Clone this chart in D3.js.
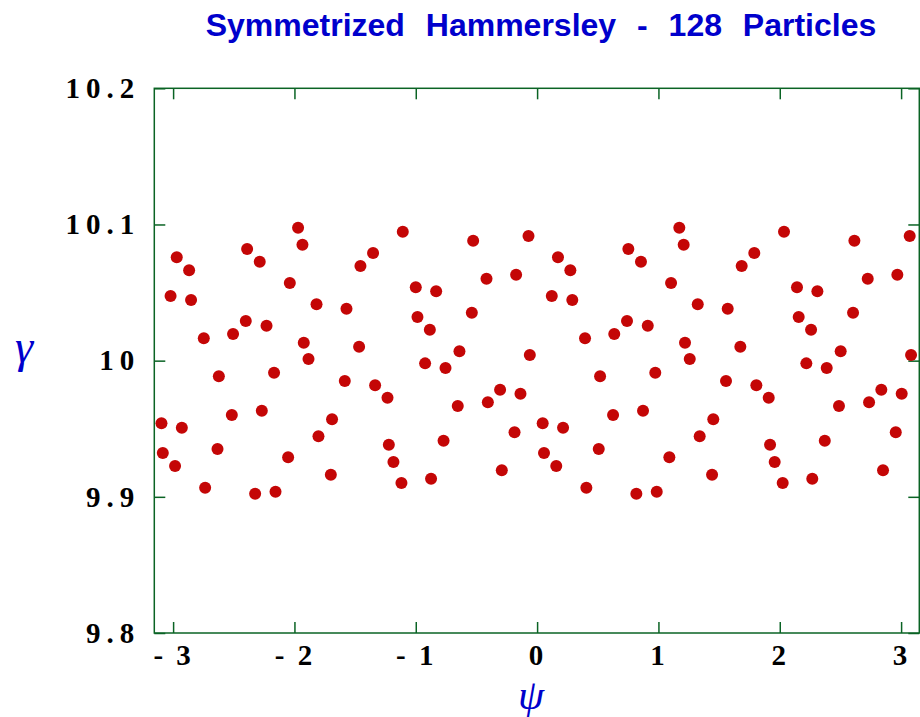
<!DOCTYPE html>
<html>
<head>
<meta charset="utf-8">
<script src="https://cdn.jsdelivr.net/npm/d3@7"></script>
<style>
  html, body { margin: 0; padding: 0; background: #fff; }
  svg { display: block; }
</style>
</head>
<body>
<div id="chart"></div>
<script>
    "use strict";

    // Particle positions (psi, gamma)
    var psi = [
	-1.970, -1.934, -2.970, -2.868, -2.390, -2.286, -2.038, -3.021, -2.852, -1.818,
	-1.571, -1.456, -1.352, -1.107, -0.527, -0.071, -0.417, -0.173, -1.000, -0.832,
	-0.538, -0.986, -0.884, -2.401, -2.230, -2.747, -2.506, -1.923, -1.467, -0.640,
	-0.060, -1.884, -0.923, -0.755, -2.623, -2.168, -1.585, -1.335, -1.233, -0.654,
	-0.406, -0.305, -0.137, -2.516, -2.269, -1.690, -1.802, -3.096, -2.928, -2.634,
	-3.085, -2.984, -2.052, -1.222, -1.184, -0.771, -0.186, -0.291, -1.700, -1.118,
	-0.874, -2.736, -2.324, -2.156,
	 1.172,  1.208,  0.172,  0.274,  0.752,  0.856,  1.104,  0.121,  0.290,  1.324,
	 1.571,  1.686,  1.790,  2.035,  2.615,  3.071,  2.725,  2.969,  2.142,  2.310,
	 2.604,  2.156,  2.258,  0.741,  0.912,  0.395,  0.636,  1.219,  1.675,  2.502,
	 3.082,  1.258,  2.219,  2.387,  0.519,  0.974,  1.557,  1.807,  1.909,  2.488,
	 2.736,  2.837,  3.005,  0.626,  0.873,  1.452,  1.340,  0.046,  0.214,  0.508,
	 0.057,  0.158,  1.090,  1.920,  1.958,  2.371,  2.956,  2.851,  1.442,  2.024,
	 2.268,  0.406,  0.818,  0.986
    ];
    var gamma = [
	10.0976, 10.0851, 10.0759, 10.0663, 10.0820, 10.0727, 10.0570, 10.0475, 10.0445, 10.0414,
	10.0381, 10.0695, 10.0791, 10.0947, 10.0881, 10.0915, 10.0602, 10.0631, 10.0539, 10.0509,
	10.0352, 10.0321, 10.0227, 10.0291, 10.0257, 10.0164, 10.0196, 10.0132, 10.0102, 10.0069,
	10.0041, 10.0012,  9.9980,  9.9946,  9.9885,  9.9912,  9.9851,  9.9819,  9.9728,  9.9667,
	 9.9694,  9.9787,  9.9757,  9.9601,  9.9632,  9.9569,  9.9444,  9.9540,  9.9508,  9.9351,
	 9.9322,  9.9226,  9.9290,  9.9383,  9.9256,  9.9412,  9.9474,  9.9195,  9.9162,  9.9102,
	 9.9133,  9.9067,  9.9023,  9.9038,
	10.0976, 10.0851, 10.0759, 10.0663, 10.0820, 10.0727, 10.0570, 10.0475, 10.0445, 10.0414,
	10.0381, 10.0695, 10.0791, 10.0947, 10.0881, 10.0915, 10.0602, 10.0631, 10.0539, 10.0509,
	10.0352, 10.0321, 10.0227, 10.0291, 10.0257, 10.0164, 10.0196, 10.0132, 10.0102, 10.0069,
	10.0041, 10.0012,  9.9980,  9.9946,  9.9885,  9.9912,  9.9851,  9.9819,  9.9728,  9.9667,
	 9.9694,  9.9787,  9.9757,  9.9601,  9.9632,  9.9569,  9.9444,  9.9540,  9.9508,  9.9351,
	 9.9322,  9.9226,  9.9290,  9.9383,  9.9256,  9.9412,  9.9474,  9.9195,  9.9162,  9.9102,
	 9.9133,  9.9067,  9.9023,  9.9038
    ];

    var xTicks = [-3, -2, -1, 0, 1, 2, 3];
    var yTicks = [9.8, 9.9, 10.0, 10.1, 10.2];
    var yTickLabels = ["9.8", "9.9", "10", "10.1", "10.2"];
    var xTickLabels = ["- 3", "- 2", "- 1", "0", "1", "2", "3"];

    var title = "Symmetrized Hammersley - 128 Particles";

    var width = 920, height = 717;
    var margin = {left: 154.3, right: 920 - 919.3, top: 88.3, bottom: 717 - 633};

    var frameColor = "#0a6324";
    var dotColor = "#c40606";
    var labelBlue = "#0000cc";

    var svg = d3.select("#chart")
	.append("svg")
	.attr("width", width)
	.attr("height", height);

    var x = d3.scaleLinear()
	.domain([-3.155, 3.150])
	.range([margin.left, width - margin.right]);

    var y = d3.scaleLinear()
	.domain([9.8, 10.2])
	.range([height - margin.bottom, margin.top]);

    // Title
    svg.append("text")
	.attr("x", 541)
	.attr("y", 36)
	.attr("text-anchor", "middle")
	.style("font-family", "'Liberation Sans', Arial, sans-serif")
	.style("font-weight", "bold")
	.style("font-size", "32px")
	.style("word-spacing", "12px")
	.style("fill", labelBlue)
	.text(title);

    // Axes with inward ticks on all four sides
    var tickLen = 11;
    var tickFont = function (sel) {
	sel.selectAll("text")
	    .style("font-family", "'Liberation Serif', 'Times New Roman', serif")
	    .style("font-weight", "bold")
	    .style("font-size", "29px")
	    .style("fill", "#000");
    };
    var styleAxis = function (sel) {
	sel.select(".domain").remove();
	sel.selectAll(".tick line")
	    .attr("stroke", frameColor)
	    .attr("stroke-width", 1.5);
    };

    svg.append("g")
	.attr("transform", "translate(0," + y.range()[0] + ")")
	.call(d3.axisBottom(x).tickValues(xTicks).tickSize(-tickLen).tickPadding(11)
	      .tickFormat(function (d, i) { return xTickLabels[i]; }))
	.call(styleAxis)
	.call(tickFont)
	.selectAll("text")
	.style("letter-spacing", "3px")
	.style("white-space", "pre");

    svg.append("g")
	.attr("transform", "translate(0," + y.range()[1] + ")")
	.call(d3.axisTop(x).tickValues(xTicks).tickSize(-tickLen).tickFormat(""))
	.call(styleAxis);

    svg.append("g")
	.attr("transform", "translate(" + x.range()[0] + ",0)")
	.call(d3.axisLeft(y).tickValues(yTicks).tickSize(-tickLen).tickPadding(14)
	      .tickFormat(function (d, i) { return yTickLabels[i]; }))
	.call(styleAxis)
	.call(tickFont)
	.selectAll("text")
	.style("letter-spacing", "6px");

    svg.append("g")
	.attr("transform", "translate(" + x.range()[1] + ",0)")
	.call(d3.axisRight(y).tickValues(yTicks).tickSize(-tickLen).tickFormat(""))
	.call(styleAxis);

    // Frame
    svg.append("rect")
	.attr("x", x.range()[0])
	.attr("y", y.range()[1])
	.attr("width", x.range()[1] - x.range()[0])
	.attr("height", y.range()[0] - y.range()[1])
	.attr("fill", "none")
	.attr("stroke", frameColor)
	.attr("stroke-width", 1.5);

    // Particles
    svg.append("g")
	.selectAll("circle")
	.data(d3.range(psi.length))
	.join("circle")
	.attr("cx", function (i) { return x(psi[i]); })
	.attr("cy", function (i) { return y(gamma[i]); })
	.attr("r", 6)
	.attr("fill", dotColor);

    // Axis labels
    var greek = function (sel) {
	sel.style("font-family", "'Liberation Serif', 'DejaVu Serif', serif")
	    .style("font-style", "italic")
	    .style("fill", labelBlue);
    };

    svg.append("text")
	.attr("x", 24)
	.attr("y", 362)
	.attr("text-anchor", "middle")
	.style("font-size", "46px")
	.call(greek)
	.text("γ");

    svg.append("text")
	.attr("x", 531)
	.attr("y", 709)
	.attr("text-anchor", "middle")
	.style("font-size", "42px")
	.call(greek)
	.text("ψ");
</script>
</body>
</html>
